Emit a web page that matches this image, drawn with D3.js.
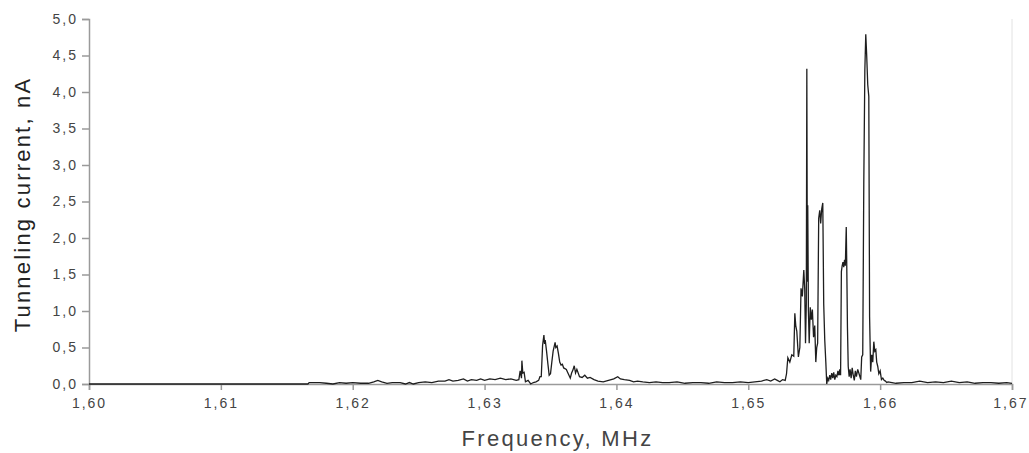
<!DOCTYPE html>
<html>
<head>
<meta charset="utf-8">
<script src="https://cdn.jsdelivr.net/npm/d3@7"></script>
<style>
  body { margin: 0; background: #fff; }
  svg { display: block; font-family: "Liberation Sans", Arial, sans-serif; }
</style>
</head>
<body>
<svg width="1029" height="453"></svg>
<script>
const width = 1029
const height = 453
const margin = { top: 19, right: 17, bottom: 69, left: 89 }

// tick labels
const xTicks = [1.60, 1.61, 1.62, 1.63, 1.64, 1.65, 1.66, 1.67]
const yTicks = [0, 0.5, 1, 1.5, 2, 2.5, 3, 3.5, 4, 4.5, 5]

// [frequency MHz, current nA]
const baselineLow = [
  [1.6000, 0], [1.6166, 0], [1.6167, 0.02], [1.6175, 0.02], [1.6180, 0.01], [1.6185, 0.0],
  [1.6190, 0.02], [1.6195, 0.01], [1.6200, 0.02], [1.6206, 0.01], [1.6212, 0.01], [1.6216, 0.03],
  [1.6219, 0.05], [1.6222, 0.03], [1.6226, 0.01], [1.6230, 0.02], [1.6236, 0.02], [1.6240, 0.0],
  [1.6243, 0.02], [1.6246, 0.0], [1.6250, 0.02], [1.6255, 0.03], [1.6260, 0.02], [1.6265, 0.04],
  [1.6270, 0.04], [1.6273, 0.06], [1.6276, 0.04], [1.6280, 0.05], [1.6284, 0.07], [1.6287, 0.04],
  [1.6290, 0.06], [1.6294, 0.05], [1.6297, 0.07], [1.6300, 0.05], [1.6304, 0.07], [1.6308, 0.06],
  [1.6312, 0.08], [1.6316, 0.06], [1.6320, 0.07], [1.6324, 0.05]
]

const smallPeaks = [
  [1.6326, 0.06], [1.6327, 0.18], [1.6328, 0.08], [1.63283, 0.32], [1.6329, 0.15], [1.6330, 0.16],
  [1.6331, 0.03], [1.6333, 0.05], [1.6335, 0.0], [1.6337, 0.02], [1.6339, 0.03], [1.6341, 0.05],
  [1.6342, 0.10], [1.6343, 0.10], [1.6344, 0.53], [1.6345, 0.67], [1.63455, 0.55], [1.6346, 0.60],
  [1.6347, 0.45], [1.6348, 0.28], [1.6349, 0.12], [1.6350, 0.14], [1.6351, 0.30], [1.6352, 0.45],
  [1.63535, 0.57], [1.6354, 0.50], [1.6355, 0.52], [1.6356, 0.42], [1.6357, 0.30], [1.6358, 0.26],
  [1.6359, 0.27], [1.6360, 0.22], [1.6362, 0.20], [1.6364, 0.12], [1.6365, 0.08], [1.6366, 0.15],
  [1.6367, 0.19], [1.6368, 0.25], [1.6369, 0.15], [1.6370, 0.20], [1.6372, 0.10], [1.6374, 0.09],
  [1.6376, 0.12], [1.6378, 0.08], [1.6380, 0.09], [1.6383, 0.06], [1.6386, 0.04], [1.6390, 0.03],
  [1.6394, 0.05], [1.6398, 0.07], [1.6401, 0.10], [1.6403, 0.07], [1.6406, 0.06], [1.6410, 0.05],
  [1.6413, 0.03], [1.6416, 0.04], [1.6420, 0.03], [1.6425, 0.02], [1.6430, 0.03], [1.6435, 0.02]
]

const baselineMid = [
  [1.6440, 0.02], [1.6446, 0.03], [1.6452, 0.01], [1.6458, 0.02], [1.6464, 0.02], [1.6470, 0.01],
  [1.6476, 0.03], [1.6482, 0.02], [1.6488, 0.02], [1.6494, 0.03], [1.6500, 0.02], [1.6505, 0.03],
  [1.6510, 0.04], [1.6514, 0.06], [1.6517, 0.04], [1.6520, 0.07], [1.6522, 0.05], [1.6524, 0.03],
  [1.6526, 0.06], [1.6528, 0.05], [1.6529, 0.14]
]

const mainPeaks = [
  [1.65300, 0.36], [1.65315, 0.30], [1.65330, 0.40], [1.65345, 0.38], [1.65353, 0.97], [1.65360, 0.80],
  [1.65368, 0.72], [1.65380, 0.37], [1.65391, 0.50], [1.65400, 1.31], [1.65410, 1.20], [1.65421, 1.56],
  [1.65428, 1.30], [1.65434, 0.56], [1.65440, 1.10], [1.65444, 4.32], [1.65448, 1.40], [1.65451, 2.45],
  [1.65456, 1.00], [1.65462, 0.56], [1.65470, 1.05], [1.65478, 0.88], [1.65486, 1.02], [1.65495, 0.64],
  [1.65504, 0.80], [1.65512, 0.30], [1.65519, 0.50], [1.65526, 0.56], [1.65534, 2.27], [1.65542, 2.38],
  [1.65549, 2.20], [1.65557, 2.40], [1.65565, 2.48], [1.65572, 1.10], [1.65580, 0.60], [1.65588, 0.30],
  [1.65595, 0.00], [1.65603, 0.08], [1.65610, 0.05], [1.65618, 0.12], [1.65625, 0.06], [1.65633, 0.15],
  [1.65641, 0.08], [1.65648, 0.16], [1.65656, 0.06], [1.65664, 0.12], [1.65672, 0.10], [1.65680, 0.18],
  [1.65688, 0.12], [1.65694, 0.20], [1.65700, 0.12], [1.65706, 1.54], [1.65712, 1.62], [1.65718, 1.67],
  [1.65724, 1.60], [1.65730, 1.70], [1.65736, 1.62], [1.65743, 2.15], [1.65747, 1.60], [1.65752, 0.78],
  [1.65758, 0.24], [1.65765, 0.10], [1.65772, 0.20], [1.65780, 0.08], [1.65788, 0.22], [1.65796, 0.12],
  [1.65804, 0.05], [1.65812, 0.18], [1.65820, 0.10], [1.65830, 0.20], [1.65840, 0.14], [1.65853, 0.06],
  [1.65860, 0.37], [1.65868, 0.40], [1.65876, 2.75], [1.65884, 4.30], [1.65891, 4.79], [1.65898, 4.50],
  [1.65906, 4.10], [1.65914, 3.94], [1.65920, 0.92], [1.65928, 0.17], [1.65936, 0.40], [1.65944, 0.30],
  [1.65952, 0.58], [1.65959, 0.45], [1.65967, 0.47], [1.65974, 0.30], [1.65982, 0.24], [1.65990, 0.14],
  [1.66000, 0.18], [1.66010, 0.06], [1.66020, 0.08], [1.66030, 0.05], [1.66040, 0.04], [1.66050, 0.02]
]

const baselineHigh = [
  [1.6606, 0.03], [1.6612, 0.01], [1.6618, 0.02], [1.6624, 0.02], [1.6630, 0.04], [1.6636, 0.02],
  [1.6642, 0.03], [1.6648, 0.02], [1.6654, 0.04], [1.6660, 0.02], [1.6666, 0.03], [1.6672, 0.01],
  [1.6678, 0.02], [1.6684, 0.02], [1.6690, 0.01], [1.6696, 0.02], [1.6700, 0.01]
]

const spectrum = [...baselineLow, ...smallPeaks, ...baselineMid, ...mainPeaks, ...baselineHigh]

const svg = d3.select('svg')

const x = d3.scaleLinear()
  .domain([1.60, 1.67])
  .range([margin.left, width - margin.right])
const y = d3.scaleLinear()
  .domain([0, 5])
  .range([height - margin.bottom, margin.top])

const commaFormat = digits => d => d.toFixed(digits).replace('.', ',')

// faint right frame line
svg.append('line')
  .attr('x1', x(1.67)).attr('x2', x(1.67))
  .attr('y1', y(5)).attr('y2', y(0))
  .attr('stroke', '#e2e2e2')
  .attr('stroke-width', 1)

const xAxis = svg.append('g')
  .attr('transform', `translate(0,${y(0)})`)
  .call(d3.axisBottom(x).tickValues(xTicks).tickSize(6).tickPadding(8).tickFormat(commaFormat(2)))
const yAxis = svg.append('g')
  .attr('transform', `translate(${x(1.60)},0)`)
  .call(d3.axisLeft(y).tickValues(yTicks).tickSize(7).tickPadding(4).tickFormat(commaFormat(1)))

;[xAxis, yAxis].forEach(axis => {
  axis.select('.domain').attr('stroke', '#9a9a9a').attr('stroke-width', 1.5)
  axis.selectAll('.tick line').attr('stroke', '#9a9a9a').attr('stroke-width', 1.5)
  axis.selectAll('.tick text')
    .attr('fill', '#444')
    .style('font-size', '14px')
    .style('letter-spacing', '2px')
})

// keep the last x label inside the page
xAxis.selectAll('.tick text')
  .filter(d => d === 1.67)
  .attr('text-anchor', 'end')
  .attr('dx', 16)

const line = d3.line()
  .x(d => x(d[0]))
  .y(d => y(d[1]))

svg.append('path')
  .datum(spectrum)
  .attr('fill', 'none')
  .attr('stroke', '#1e1e1e')
  .attr('stroke-width', 1.3)
  .attr('stroke-linejoin', 'miter')
  .attr('d', line)

svg.append('text')
  .attr('x', (x(1.60) + x(1.67)) / 2 + 7)
  .attr('y', 446)
  .attr('text-anchor', 'middle')
  .attr('fill', '#444')
  .style('font-size', '22px')
  .style('letter-spacing', '2.3px')
  .text('Frequency, MHz')

svg.append('text')
  .attr('transform', `translate(30,${(y(0) + y(5)) / 2 + 3}) rotate(-90)`)
  .attr('text-anchor', 'middle')
  .attr('fill', '#222')
  .style('font-size', '22px')
  .style('letter-spacing', '2.2px')
  .text('Tunneling current, nA')
</script>
</body>
</html>
